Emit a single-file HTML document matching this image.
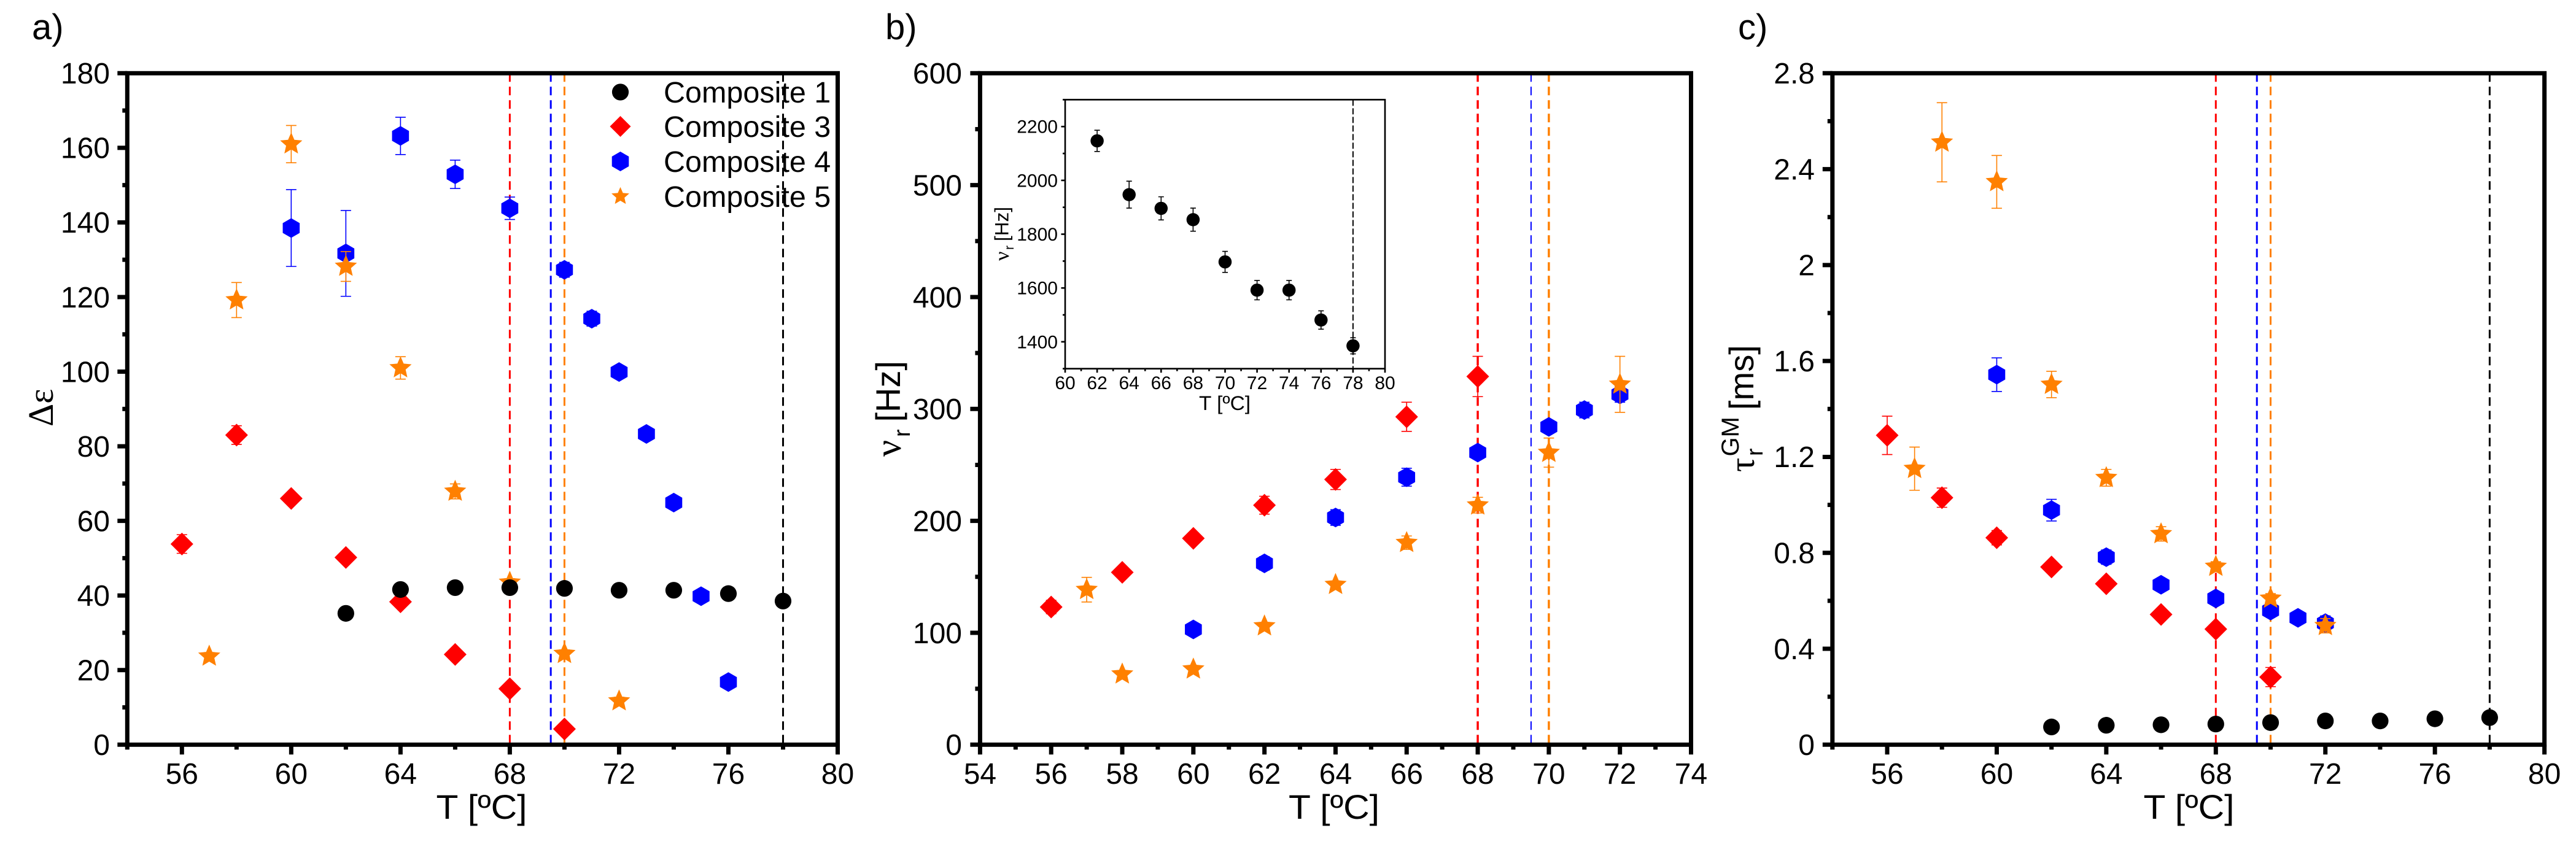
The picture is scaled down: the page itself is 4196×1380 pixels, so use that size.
<!DOCTYPE html>
<html lang="en">
<head>
<meta charset="utf-8">
<title>Composite dielectric relaxation parameters versus temperature</title>
<style>
html,body{margin:0;padding:0;background:#fff;}
svg{display:block;}
text{font-family:"Liberation Sans",Arial,sans-serif;fill:#000;}
.serif{font-family:"Liberation Serif","DejaVu Serif",serif;}
</style>
</head>
<body>
<svg id="figure" xmlns="http://www.w3.org/2000/svg" width="4196" height="1380" viewBox="0 0 4196 1380">
<rect width="4196" height="1380" fill="#fff"/>

<text x="52" y="64" font-size="58">a)</text>
<text x="1442" y="64" font-size="58">b)</text>
<text x="2831" y="64" font-size="58">c)</text>

<g id="panel-a"></g>
<g id="panel-b"></g>
<g id="inset"></g>
<g id="panel-c"></g>

<text x="784.5" y="1334" font-size="56" text-anchor="middle" textLength="148" lengthAdjust="spacingAndGlyphs">T [ºC]</text>
<text x="2173" y="1334" font-size="56" text-anchor="middle" textLength="148" lengthAdjust="spacingAndGlyphs">T [ºC]</text>
<text x="3565.5" y="1334" font-size="56" text-anchor="middle" textLength="148" lengthAdjust="spacingAndGlyphs">T [ºC]</text>
<text x="1995" y="668" font-size="32" text-anchor="middle" textLength="84" lengthAdjust="spacingAndGlyphs">T [ºC]</text>

<g transform="translate(86,695) rotate(-90)">
  <text class="serif" x="0" y="0" font-size="58">Δε</text>
</g>
<g transform="translate(1467,744) rotate(-90)">
  <text class="serif" x="0" y="0" font-size="60">ν</text>
  <text x="32" y="15" font-size="38">r</text>
  <text x="56.5" y="-1" font-size="56">[Hz]</text>
</g>
<g transform="translate(2857,769) rotate(-90)">
  <text class="serif" x="0" y="0" font-size="58">τ</text>
  <text x="26" y="14" font-size="38">r</text>
  <text x="25.5" y="-25" font-size="40">GM</text>
  <text x="101" y="-1" font-size="56">[ms]</text>
</g>
<g transform="translate(1643,425) rotate(-90)">
  <text class="serif" x="0" y="0" font-size="34">ν</text>
  <text x="18" y="8" font-size="21">r</text>
  <text x="32" y="-0.5" font-size="31.5">[Hz]</text>
</g>

<g id="legend">
  <g><text x="1081" y="167" font-size="48.5">Composite 1</text></g>
  <g><text x="1081" y="223" font-size="48.5">Composite 3</text></g>
  <g><text x="1081" y="280" font-size="48.5">Composite 4</text></g>
  <g><text x="1081" y="337" font-size="48.5">Composite 5</text></g>
</g>
</svg>

<script>
/* Panel a: delta epsilon */
const aT1 = [62,64,66,68,70,72,74,76,78];
const aV1 = [35.2,41.6,42.1,42.1,41.9,41.4,41.4,40.5,38.5];
const aE1 = [1,1,1,1,1,1,1,1,1];
const aT3 = [56,58,60,62,64,66,68,70];
const aV3 = [53.8,83,66,50.2,38.3,24.2,15,4.2];
const aE3 = [2.5,2.5,1.2,1,1,1,1,0.8];
const aT4 = [60,62,64,66,68,70,71,72,73,74,75,76];
const aV4 = [138.5,131.7,163.2,152.9,143.8,127.3,114.2,99.9,83.3,64.9,39.8,16.8];
const aE4 = [10.3,11.5,5,3.8,3,2,2,1.5,1,1,1,1];
const aT5 = [57,58,60,62,64,66,68,70,72];
const aV5 = [23.7,119.2,161,128.2,101,67.9,43.5,24.4,11.7];
const aE5 = [1,4.7,5,4,3,2,1,1,1];

/* Panel b: relaxation frequency */
const bT3 = [56,58,60,62,64,66,68];
const bV3 = [123,154,184.4,214,237,293,329];
const bE3 = [6,5,5,8,9,13,18];
const bT4 = [60,62,64,66,68,70,71,72];
const bV4 = [103,162,203,239,261,284,299,313];
const bE4 = [3,6,7,8,5,5,7,7];
const bT5 = [57,58,60,62,64,66,68,70,72];
const bV5 = [138.5,63,67.5,106,143,180.5,214,261,322];
const bE5 = [11,3,3,3,3,6,7,13,25];

/* Panel b inset: Composite 1 */
const iT1 = [62,64,66,68,70,72,74,76,78];
const iV1 = [2147,1947,1896,1854,1697,1592,1592,1481,1385];
const iE1 = [39.5,50,43,43,39,36,36,34,30];

/* Panel c: relaxation time */
const cT1 = [62,64,66,68,70,72,74,76,78];
const cV1 = [0.074,0.081,0.083,0.086,0.092,0.099,0.099,0.108,0.113];
const cE1 = [0.005,0.005,0.005,0.005,0.005,0.005,0.005,0.005,0.005];
const cT3 = [56,58,60,62,64,66,68,70];
const cV3 = [1.29,1.03,0.863,0.741,0.671,0.543,0.482,0.282];
const cE3 = [0.08,0.04,0.03,0.02,0.02,0.02,0.02,0.04];
const cT4 = [60,62,64,66,68,70,71,72];
const cV4 = [1.543,0.978,0.782,0.667,0.61,0.559,0.529,0.507];
const cE4 = [0.07,0.045,0.03,0.02,0.02,0.02,0.02,0.03];
const cT5 = [57,58,60,62,64,66,68,70,72];
const cV5 = [1.151,2.512,2.347,1.502,1.113,0.879,0.743,0.61,0.496];
const cE5 = [0.09,0.165,0.11,0.055,0.035,0.03,0.02,0.02,0.03];

/* Reference temperatures */
const refTemps = [68,69.5,70,78];
const refTempsB = [68,69.5,70];
const refTempsInset = [78];
const refColors = ['#ff0000','#0000ff','#ff8000','#000000'];
const refNames = ['composite-3','composite-4','composite-5','composite-1'];

/* Tick values and labels */
const xTicksAC = [56,60,64,68,72,76,80];
const xMinorAC = [54,58,62,66,70,74,78];
const xTicksB = [54,56,58,60,62,64,66,68,70,72,74];
const xMinorB = [55,57,59,61,63,65,67,69,71,73];
const xTicksInset = [60,62,64,66,68,70,72,74,76,78,80];
const xMinorInset = [61,63,65,67,69,71,73,75,77,79];
const yTicksA = [0,20,40,60,80,100,120,140,160,180];
const yMinorA = [10,30,50,70,90,110,130,150,170];
const yTicksB = [0,100,200,300,400,500,600];
const yMinorB = [50,150,250,350,450,550];
const yTicksC = [0,0.4,0.8,1.2,1.6,2,2.4,2.8];
const yMinorC = [0.2,0.6,1,1.4,1.8,2.2,2.6];
const yTicksInset = [1400,1600,1800,2000,2200];
const yMinorInset = [1300,1500,1700,1900,2100,2300];

const NS = 'http://www.w3.org/2000/svg';
const ORANGE = '#ff8000';

function make(tag, attrs, parent){
  const el = document.createElementNS(NS, tag);
  for (const k in attrs) el.setAttribute(k, attrs[k]);
  parent.appendChild(el);
  return el;
}

function starPoints(cx, cy, R){
  const pts = [];
  for (let i = 0; i < 10; i++){
    const r = i % 2 ? R * 0.46 : R;
    const a = -Math.PI / 2 + i * Math.PI / 5;
    pts.push((cx + r * Math.cos(a)).toFixed(2) + ',' + (cy + r * Math.sin(a)).toFixed(2));
  }
  return pts.join(' ');
}

function hexPoints(cx, cy, w, h){
  return [[0,-h],[w,-h/2],[w,h/2],[0,h],[-w,h/2],[-w,-h/2]]
    .map(p => (cx + p[0]) + ',' + (cy + p[1])).join(' ');
}

function drawMarker(kind, cx, cy, parent, s){
  let el;
  if (kind === 'circle'){
    el = make('circle', {cx: cx, cy: cy, r: 13.6 * s, fill: '#000'}, parent);
  } else if (kind === 'diamond'){
    const w = 18.5 * s, h = 18.5 * s;
    el = make('polygon', {points: [cx,cy-h, cx+w,cy, cx,cy+h, cx-w,cy].join(','), fill: '#ff0000'}, parent);
  } else if (kind === 'hex'){
    el = make('polygon', {points: hexPoints(cx, cy, 13.8 * s, 16 * s), fill: '#0000ff'}, parent);
  } else {
    el = make('polygon', {points: starPoints(cx, cy, 19 * s), fill: ORANGE}, parent);
  }
  return el;
}

function drawSeries(parent, name, kind, color, xs, ys, es, sx, sy, capW, lw, s){
  const g = make('g', {}, parent);
  
  
  xs.forEach((t, i) => {
    const cx = sx(t), top = sy(ys[i] + es[i]), bot = sy(ys[i] - es[i]);
    const bar = make('path', {
      d: 'M' + cx + ' ' + top + 'V' + bot + 'M' + (cx - capW) + ' ' + top + 'H' + (cx + capW) + 'M' + (cx - capW) + ' ' + bot + 'H' + (cx + capW),
      stroke: color, 'stroke-width': lw, fill: 'none'
    }, g);
    
    
    const m = drawMarker(kind, cx, sy(ys[i]), g, s);
    
    
  });
}

function drawPanel(cfg){
  const p = document.getElementById(cfg.id);
  const sx = v => cfg.left + (v - cfg.xMin) / (cfg.xMax - cfg.xMin) * (cfg.right - cfg.left);
  const sy = v => cfg.bottom - (v - cfg.yMin) / (cfg.yMax - cfg.yMin) * (cfg.bottom - cfg.top);

  cfg.refs.forEach(r => {
    const line = make('line', {
      x1: sx(r.t), x2: sx(r.t), y1: cfg.top, y2: cfg.bottom,
      stroke: r.color, 'stroke-width': r.w, 'stroke-dasharray': r.dash
    }, p);
    
    
  });

  cfg.series.forEach(se => {
    drawSeries(p, se.name, se.kind, se.color, se.x, se.y, se.e, sx, sy, cfg.capW, cfg.errW, cfg.markerScale);
  });

  const frame = make('rect', {
    x: cfg.left, y: cfg.top, width: cfg.right - cfg.left, height: cfg.bottom - cfg.top,
    fill: 'none', stroke: '#000', 'stroke-width': cfg.frameW
  }, p);
  
  

  const xAxis = make('g', {}, p);
  
  
  const yAxis = make('g', {}, p);
  
  

  cfg.xMajor.forEach(t => {
    const tick = make('line', {x1: sx(t), x2: sx(t), y1: cfg.bottom, y2: cfg.bottom + cfg.majorLen, stroke: '#000', 'stroke-width': cfg.tickW}, xAxis);
    
    
    const label = make('text', {x: sx(t), y: cfg.xLabelY, 'font-size': cfg.fontSize, 'text-anchor': 'middle'}, xAxis);
    label.textContent = String(t);
    
    
  });
  cfg.xMinor.forEach(t => {
    const tick = make('line', {x1: sx(t), x2: sx(t), y1: cfg.bottom, y2: cfg.bottom + cfg.minorLen, stroke: '#000', 'stroke-width': cfg.tickW}, xAxis);
    
    
  });
  cfg.yMajor.forEach(t => {
    const tick = make('line', {x1: cfg.left, x2: cfg.left - cfg.majorLen, y1: sy(t), y2: sy(t), stroke: '#000', 'stroke-width': cfg.tickW}, yAxis);
    
    
    const label = make('text', {x: cfg.yLabelX, y: sy(t) + cfg.fontSize * 0.35, 'font-size': cfg.fontSize, 'text-anchor': 'end'}, yAxis);
    label.textContent = String(t);
    
    
  });
  cfg.yMinor.forEach(t => {
    const tick = make('line', {x1: cfg.left, x2: cfg.left - cfg.minorLen, y1: sy(t), y2: sy(t), stroke: '#000', 'stroke-width': cfg.tickW}, yAxis);
    
    
  });
}

function refList(temps, panelB){
  return temps.map(t => {
    const i = refTemps.indexOf(t);
    return {t: t, color: refColors[i], name: refNames[i], w: panelB ? (t === 69.5 ? 2 : 3.5) : 3, dash: '14 8'};
  });
}

const base = {
  top: 119.3, bottom: 1213.3, frameW: 7, tickW: 7, majorLen: 16, minorLen: 8,
  fontSize: 48, xLabelY: 1277, capW: 8.5, errW: 1.6, markerScale: 1
};

drawPanel(Object.assign({}, base, {
  id: 'panel-a', left: 207.3, right: 1364.5, xMin: 54, xMax: 80, yMin: 0, yMax: 180,
  xMajor: xTicksAC, xMinor: xMinorAC, yMajor: yTicksA, yMinor: yMinorA, yLabelX: 179,
  refs: refList(refTemps, false),
  series: [
    {name: 'composite-3-series', kind: 'diamond', color: '#ff0000', x: aT3, y: aV3, e: aE3},
    {name: 'composite-4-series', kind: 'hex', color: '#0000ff', x: aT4, y: aV4, e: aE4},
    {name: 'composite-5-series', kind: 'star', color: ORANGE, x: aT5, y: aV5, e: aE5},
    {name: 'composite-1-series', kind: 'circle', color: '#000000', x: aT1, y: aV1, e: aE1}
  ]
}));

drawPanel(Object.assign({}, base, {
  id: 'panel-b', left: 1596.4, right: 2754.5, xMin: 54, xMax: 74, yMin: 0, yMax: 600,
  xMajor: xTicksB, xMinor: xMinorB, yMajor: yTicksB, yMinor: yMinorB, yLabelX: 1567,
  refs: refList(refTempsB, true),
  series: [
    {name: 'composite-3-series', kind: 'diamond', color: '#ff0000', x: bT3, y: bV3, e: bE3},
    {name: 'composite-4-series', kind: 'hex', color: '#0000ff', x: bT4, y: bV4, e: bE4},
    {name: 'composite-5-series', kind: 'star', color: ORANGE, x: bT5, y: bV5, e: bE5}
  ]
}));

drawPanel({
  id: 'inset', left: 1735, right: 2256, top: 162.4, bottom: 600.7,
  xMin: 60, xMax: 80, yMin: 1300, yMax: 2300, frameW: 2.6, tickW: 2.6, majorLen: 6.5, minorLen: 4,
  fontSize: 30, xLabelY: 634, yLabelX: 1723, capW: 4.5, errW: 1.6, markerScale: 0.79,
  xMajor: xTicksInset, xMinor: xMinorInset, yMajor: yTicksInset, yMinor: yMinorInset,
  refs: refTempsInset.map(t => ({t: t, color: '#000000', name: 'composite-1-inset', w: 2, dash: '10 4'})),
  series: [{name: 'composite-1-inset-series', kind: 'circle', color: '#000000', x: iT1, y: iV1, e: iE1}]
});

drawPanel(Object.assign({}, base, {
  id: 'panel-c', left: 2984.8, right: 4144.6, xMin: 54, xMax: 80, yMin: 0, yMax: 2.8,
  xMajor: xTicksAC, xMinor: xMinorAC, yMajor: yTicksC, yMinor: yMinorC, yLabelX: 2956,
  refs: refList(refTemps, false),
  series: [
    {name: 'composite-3-series', kind: 'diamond', color: '#ff0000', x: cT3, y: cV3, e: cE3},
    {name: 'composite-4-series', kind: 'hex', color: '#0000ff', x: cT4, y: cV4, e: cE4},
    {name: 'composite-5-series', kind: 'star', color: ORANGE, x: cT5, y: cV5, e: cE5},
    {name: 'composite-1-series', kind: 'circle', color: '#000000', x: cT1, y: cV1, e: cE1}
  ]
}));

/* Legend markers */
const legendKinds = ['circle','diamond','hex','star'];
const legendScales = [1,0.92,1,0.8];
const legendRows = document.querySelectorAll('#legend > g');
legendRows.forEach((row, i) => {
  const baseline = parseFloat(row.querySelector('text').getAttribute('y'));
  const m = drawMarker(legendKinds[i], 1010.5, baseline - 17, row, legendScales[i]);
  
  
});
</script>
</body>
</html>
